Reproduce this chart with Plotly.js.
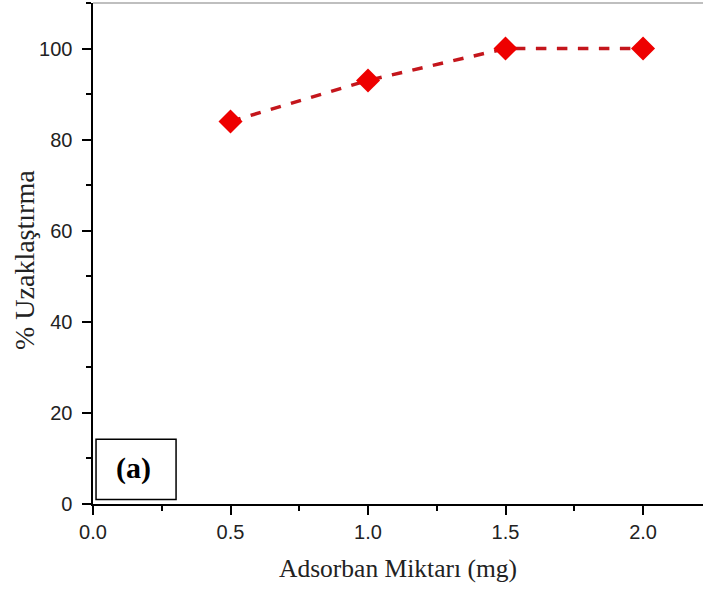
<!DOCTYPE html>
<html>
<head>
<meta charset="utf-8">
<script src="https://cdn.plot.ly/plotly-3.0.1.min.js"></script>
<style>html,body{margin:0;padding:0;background:#fff;}#chart{width:703px;height:589px;}</style>
</head>
<body>
<div id="chart"></div>
<script>
const adsorbentAmount = [0.5, 1.0, 1.5, 2.0];
const removalPercent = [84, 93, 100, 100];
const xTickVals = [0, 0.5, 1.0, 1.5, 2.0];
const xTickText = ["0.0", "0.5", "1.0", "1.5", "2.0"];
const yTickVals = [0, 20, 40, 60, 80, 100];
const xTitle = "Adsorban Miktarı (mg)";
const yTitle = "% Uzaklaştırma";
const panelLabel = "<b>(a)</b>";

const trace = {
  x: adsorbentAmount,
  y: removalPercent,
  type: "scatter",
  mode: "lines+markers",
  line: {color: "#c4161c", width: 3.5, dash: "dash"},
  marker: {symbol: "diamond", size: 18.5, color: "#ee0000", line: {width: 0}},
  showlegend: false
};

const layout = {
  width: 703, height: 589,
  margin: {l: 93, r: 0, t: 3, b: 85},
  paper_bgcolor: "#fff", plot_bgcolor: "#fff",
  xaxis: {
    range: [0, 2.218], tickvals: xTickVals, ticktext: xTickText,
    showgrid: false, zeroline: false, showline: true, linecolor: "#000", linewidth: 2,
    ticks: "outside", ticklen: 9, tickwidth: 2, tickcolor: "#000",
    minor: {dtick: 0.25, tick0: 0.25, ticks: "outside", ticklen: 5, tickwidth: 2, tickcolor: "#000", showgrid: false},
    tickfont: {family: "Liberation Sans, Arial, sans-serif", size: 20, color: "#222"},
    title: {text: xTitle, font: {family: "Liberation Serif, Times New Roman, serif", size: 25.5, color: "#222"}, standoff: 17},
    automargin: false
  },
  yaxis: {
    range: [0, 110], tickvals: yTickVals, ticktext: yTickVals.map(v => v + "\u00a0"),
    showgrid: false, zeroline: false, showline: true, linecolor: "#000", linewidth: 2,
    ticks: "outside", ticklen: 9, tickwidth: 2, tickcolor: "#000",
    minor: {dtick: 10, tick0: 10, ticks: "outside", ticklen: 5, tickwidth: 2, tickcolor: "#000", showgrid: false},
    tickfont: {family: "Liberation Sans, Arial, sans-serif", size: 20, color: "#222"},
    automargin: false
  },
  shapes: [
    {type: "line", xref: "paper", yref: "paper", x0: 0, x1: 1, y0: 1, y1: 1, line: {color: "#aaa", width: 1.5}},
    {type: "rect", xref: "x", yref: "y", x0: 0.011, x1: 0.302, y0: 1.0, y1: 14.2, line: {color: "#000", width: 1.5}, fillcolor: "rgba(0,0,0,0)"}
  ],
  annotations: [
    {text: panelLabel, xref: "x", yref: "y", x: 0.147, y: 8.0, showarrow: false,
     font: {family: "Liberation Serif, Times New Roman, serif", size: 30, color: "#000"}},
    {text: yTitle, xref: "paper", yref: "paper", x: -69 / 610, y: (504 - 260) / 501, xanchor: "center", yanchor: "middle",
     textangle: -90, showarrow: false,
     font: {family: "Liberation Serif, Times New Roman, serif", size: 28, color: "#222"}}
  ]
};

Plotly.newPlot("chart", [trace], layout, {displayModeBar: false, staticPlot: true});
</script>
</body>
</html>
